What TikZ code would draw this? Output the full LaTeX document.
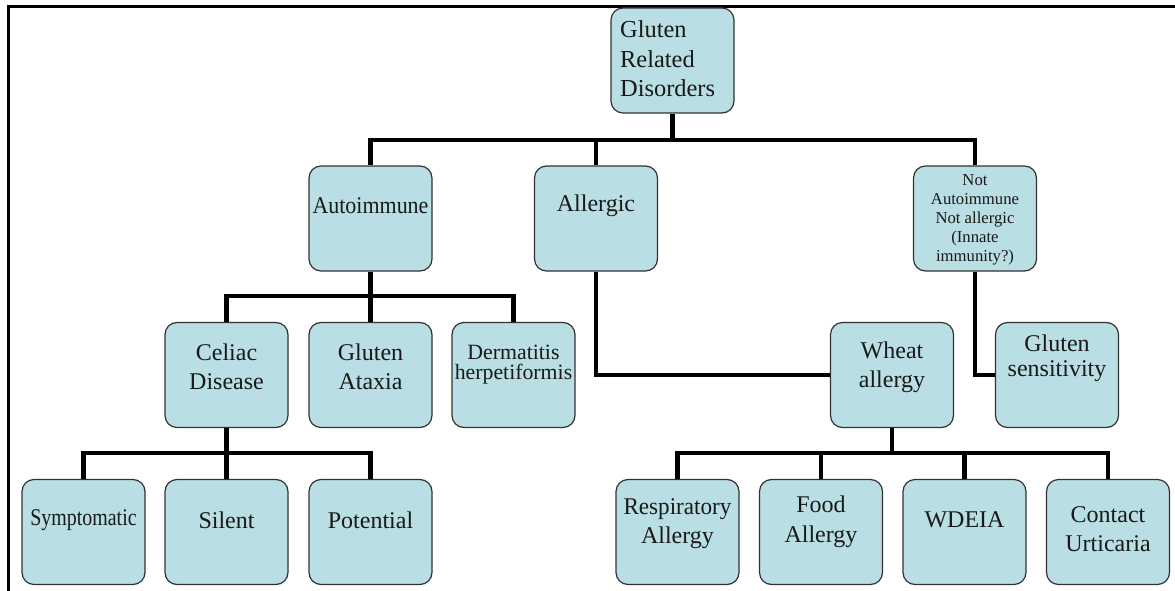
\documentclass[tikz,border=0pt]{standalone}
\usepackage{fontspec}
\setmainfont{Liberation Serif}
\definecolor{boxfill}{RGB}{185,222,227}
\definecolor{boxline}{RGB}{50,50,50}
\begin{document}
\begin{tikzpicture}[x=1pt,y=-1pt,
  box/.style={draw=boxline, line width=1.2pt, fill=boxfill, rounded corners=12pt,
    minimum width=123pt, minimum height=105pt, inner sep=0pt},
  txt/.style={align=center, inner sep=0pt, text=black!90, font=\fontsize{24}{29}\selectfont},
  conn/.style={line width=4.5pt, line join=miter}]
\useasboundingbox (0,0) rectangle (1175,591);
\draw[line width=3pt] (8,591) -- (8,7) -- (1175,7);

% boxes
\node[box] (root) at (672.5,60.5) {};
\node[box] (auto) at (370.5,218.5) {};
\node[box] (allergic) at (596,218.5) {};
\node[box] (notauto) at (975,218.5) {};
\node[box] (celiac) at (226.5,375) {};
\node[box] (ataxia) at (370.5,375) {};
\node[box] (derm) at (513.5,375) {};
\node[box] (wheat) at (892,375) {};
\node[box] (glusens) at (1057,375) {};
\node[box] (sympt) at (83.5,532) {};
\node[box] (silent) at (226.5,532) {};
\node[box] (potential) at (370.5,532) {};
\node[box] (resp) at (677.5,532) {};
\node[box] (food) at (821,532) {};
\node[box] (wdeia) at (964.5,532) {};
\node[box] (contact) at (1108,532) {};

% bus coordinates
\coordinate (bus1) at (672.5,140);
\coordinate (bus2) at (370.5,296);
\coordinate (bus3) at (226.5,453);
\coordinate (bus4) at (892,453);

% connectors
\draw[conn] (root.south) -- (bus1);
\draw[conn] (auto.north) |- (bus1) -| (notauto.north);
\draw[conn] (allergic.north) -- (allergic.north |- bus1);
\draw[conn] (auto.south) -- (bus2);
\draw[conn] (celiac.north) |- (bus2) -| (derm.north);
\draw[conn] (ataxia.north) -- (ataxia.north |- bus2);
\draw[conn] (celiac.south) -- (bus3);
\draw[conn] (sympt.north) |- (bus3) -| (potential.north);
\draw[conn] (silent.north) -- (silent.north |- bus3);
\draw[conn] (allergic.south) |- (wheat.west);
\draw[conn] (notauto.south) |- (glusens.west);
\draw[conn] (wheat.south) -- (bus4);
\draw[conn] (resp.north) |- (bus4) -| (contact.north);
\draw[conn] (food.north) -- (food.north |- bus4);
\draw[conn] (wdeia.north) -- (wdeia.north |- bus4);

% texts
\node[txt, align=left, anchor=west, font=\fontsize{24.4}{29.5}\selectfont] (t-root) at (620,59) {Gluten\\Related\\Disorders};
\node[txt] (t-auto) at (370.5,206) {\scalebox{0.915}[1]{Autoimmune}};
\node[txt] (t-allergic) at (596,206) {Allergic};
\node[txt, font=\fontsize{16.7}{19}\selectfont] (t-notauto) at (975,220) {Not\\Autoimmune\\Not allergic\\(Innate\\immunity?)};
\node[txt] (t-celiac) at (226.5,367) {Celiac\\Disease};
\node[txt] (t-ataxia) at (370.5,367) {Gluten\\Ataxia};
\node[txt, font=\fontsize{21.8}{20}\selectfont] (t-derm) at (513.5,365) {Dermatitis\\herpetiformis};
\node[txt] (t-wheat) at (892,367) {Wheat\\allergy};
\node[txt, font=\fontsize{24}{25}\selectfont] (t-glusens) at (1057,358) {Gluten\\sensitivity};
\node[txt] (t-sympt) at (83.5,520) {\scalebox{0.83}[1]{Symptomatic}};
\node[txt] (t-silent) at (226.5,520) {Silent};
\node[txt] (t-potential) at (370.5,520) {Potential};
\node[txt] (t-resp) at (677.5,524) {\scalebox{0.964}[1]{Respiratory}\\Allergy};
\node[txt, font=\fontsize{24}{30}\selectfont] (t-food) at (821,522) {Food\\Allergy};
\node[txt] (t-wdeia) at (964.5,520) {WDEIA};
\node[txt] (t-contact) at (1108,529) {Contact\\Urticaria};
\end{tikzpicture}
\end{document}
